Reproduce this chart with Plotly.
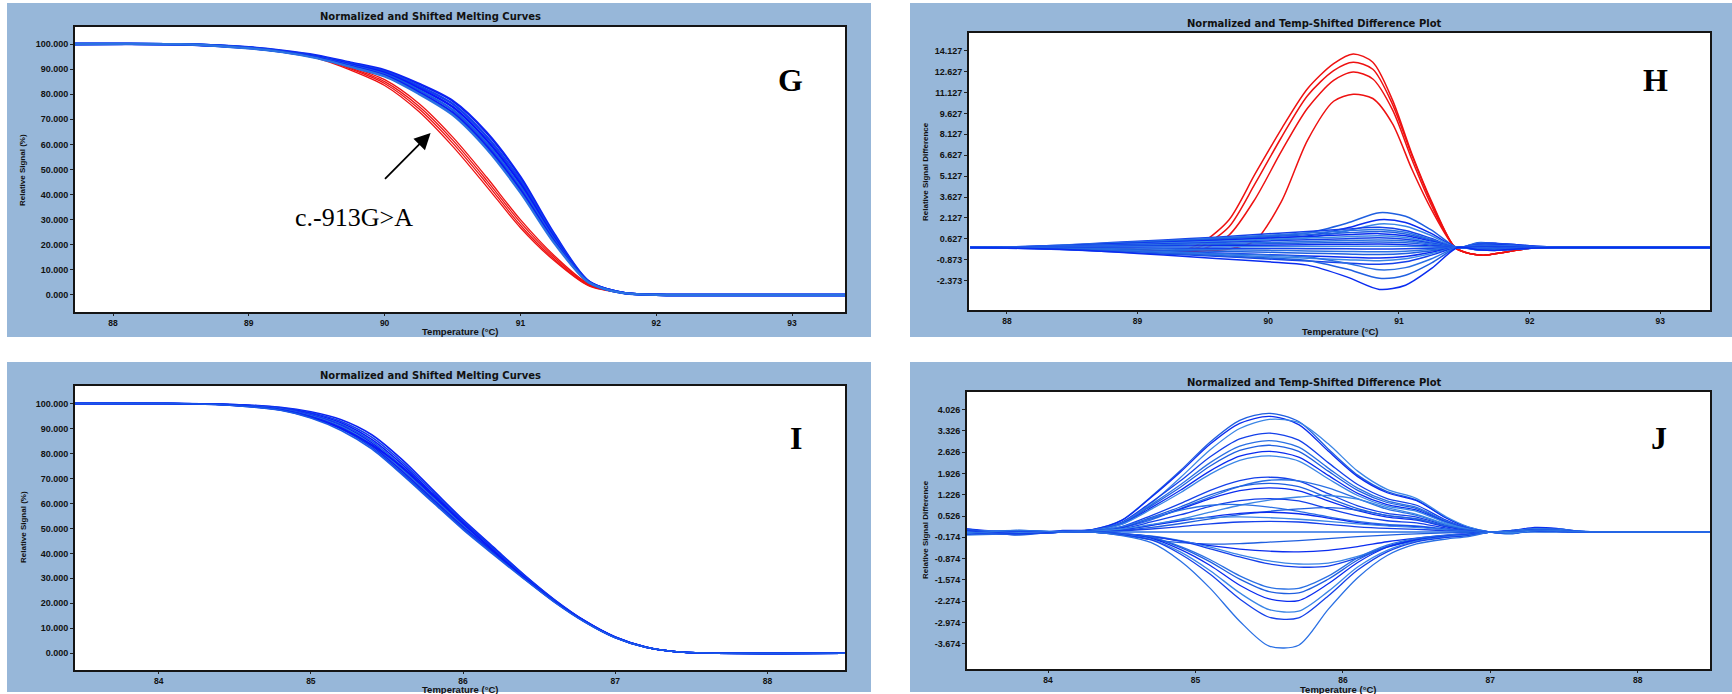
import plotly.graph_objects as go

W, H = 1732, 694

# ---------------- Panel G: normalized melting curves ----------------
g_temp = [87.72, 88.5, 89.0, 89.25, 89.5, 89.75, 90.0, 90.25, 90.5, 90.75, 91.0, 91.25, 91.5, 91.75, 92.0, 92.5, 93.39]
g_blue_signal = [
    [100, 99.9, 98.7, 97.4, 95.5, 92.6, 89.6, 84.2, 77.4, 64.8, 47.0, 24.2, 5.6, 0.9, 0.05, 0, 0],
    [100, 99.9, 98.6, 97.2, 95.2, 92.2, 89.0, 83.3, 76.2, 63.2, 45.6, 23.4, 5.5, 0.9, 0.05, 0, 0],
    [100, 99.9, 98.5, 97.1, 95.0, 91.8, 88.5, 82.5, 75.0, 61.8, 44.3, 22.6, 5.4, 0.9, 0.05, 0, 0],
    [100, 99.9, 98.5, 97.0, 94.8, 91.5, 88.0, 81.7, 73.8, 60.5, 43.0, 21.9, 5.3, 0.8, 0.05, 0, 0],
    [100, 99.9, 98.4, 96.9, 94.6, 91.2, 87.5, 80.9, 72.7, 59.3, 41.8, 21.2, 5.2, 0.8, 0.05, 0, 0],
    [100, 99.9, 98.3, 96.8, 94.4, 90.9, 87.1, 80.2, 71.8, 58.3, 40.8, 20.6, 5.1, 0.8, 0.05, 0, 0],
]
g_red_temp = [87.72, 88.5, 89.0, 89.25, 89.5, 89.75, 90.0, 90.25, 90.5, 90.75, 91.0, 91.25, 91.5, 91.75, 92.0, 92.2]
g_red_signal = [
    [100, 99.9, 98.6, 97.2, 95.0, 91.0, 85.8, 76.4, 63.0, 47.0, 30.0, 15.6, 4.5, 1.0, 0.1, 0],
    [100, 99.9, 98.5, 97.0, 94.8, 90.5, 85.0, 75.3, 61.8, 45.8, 28.9, 14.9, 4.2, 0.9, 0.1, 0],
    [100, 99.9, 98.5, 96.9, 94.6, 90.1, 84.3, 74.3, 60.6, 44.6, 27.8, 14.2, 3.9, 0.9, 0.1, 0],
    [100, 99.9, 98.4, 96.8, 94.4, 89.6, 83.5, 73.2, 59.3, 43.3, 26.8, 13.6, 3.7, 0.8, 0.1, 0],
]
g_xticks = [88, 89, 90, 91, 92, 93]
g_yticks = [0, 10, 20, 30, 40, 50, 60, 70, 80, 90, 100]

# ---------------- Panel H: difference plot ----------------
h_red_temp = [87.72, 88.5, 89.0, 89.3, 89.5, 89.7, 89.9, 90.1, 90.3, 90.5, 90.65, 90.8, 90.95, 91.1, 91.25, 91.43, 91.55, 91.65, 91.8, 92.0, 92.3]
h_red_diff = [
    [0.0, -0.05, -0.15, -0.3, 0.4, 2.0, 5.3, 8.5, 11.4, 13.2, 13.9, 13.3, 10.6, 6.7, 3.3, 0.0, -0.45, -0.55, -0.35, -0.05, 0.0],
    [0.0, -0.05, -0.15, -0.3, 0.15, 1.5, 4.6, 7.9, 10.9, 12.7, 13.3, 12.8, 10.3, 6.6, 3.2, 0.0, -0.45, -0.55, -0.35, -0.05, 0.0],
    [0.0, -0.05, -0.15, -0.3, -0.1, 0.9, 3.5, 6.9, 10.0, 12.0, 12.6, 12.1, 9.9, 6.3, 3.0, 0.0, -0.45, -0.55, -0.35, -0.05, 0.0],
    [0.0, -0.05, -0.15, -0.3, -0.25, -0.1, 0.5, 3.3, 7.7, 10.5, 11.0, 10.7, 8.9, 5.6, 2.7, 0.0, -0.45, -0.55, -0.35, -0.05, 0.0],
]
h_blue_temp = [87.72, 88.0, 88.4, 88.8, 89.2, 89.6, 90.0, 90.3, 90.6, 90.85, 91.05, 91.25, 91.45, 91.6, 91.75, 91.9, 92.05, 92.2, 92.4, 93.38]
h_blue_diff = [
    [0, 0.03, 0.1, 0.25, 0.45, 0.65, 0.85, 1.05, 1.75, 2.5, 2.25, 1.25, 0, 0.35, 0.3, 0.2, 0.1, 0.03, 0, 0],
    [0, 0.02, 0.08, 0.2, 0.36, 0.52, 0.68, 0.84, 1.4, 2.0, 1.8, 1.0, 0, 0.3, 0.3, 0.2, 0.1, 0.03, 0, 0],
    [0, 0.02, 0.07, 0.17, 0.31, 0.44, 0.58, 0.71, 1.19, 1.7, 1.53, 0.85, 0, 0.3, 0.25, 0.15, 0.05, 0.02, 0, 0],
    [0, 0.04, 0.17, 0.36, 0.55, 0.75, 0.99, 1.16, 1.33, 1.45, 1.23, 0.65, 0, 0.25, 0.25, 0.15, 0.05, 0.02, 0, 0],
    [0, 0.04, 0.16, 0.33, 0.49, 0.68, 0.88, 1.04, 1.2, 1.3, 1.1, 0.58, 0, 0.2, 0.2, 0.12, 0.05, 0, 0, 0],
    [0, 0.03, 0.14, 0.29, 0.44, 0.6, 0.78, 0.92, 1.06, 1.15, 0.98, 0.52, 0, 0.2, 0.2, 0.1, 0.03, 0, 0, 0],
    [0, 0.03, 0.12, 0.25, 0.38, 0.52, 0.68, 0.8, 0.92, 1.0, 0.85, 0.45, 0, 0.18, 0.2, 0.1, 0.03, 0, 0, 0],
    [0, 0.03, 0.1, 0.21, 0.32, 0.44, 0.58, 0.68, 0.78, 0.85, 0.72, 0.38, 0, 0.15, 0.15, 0.08, 0.02, 0, 0, 0],
    [0, 0.02, 0.08, 0.18, 0.27, 0.36, 0.48, 0.56, 0.64, 0.7, 0.6, 0.32, 0, 0.12, 0.12, 0.06, 0.02, 0, 0, 0],
    [0, 0.02, 0.07, 0.14, 0.21, 0.29, 0.37, 0.44, 0.51, 0.55, 0.47, 0.25, 0, 0.1, 0.1, 0.05, 0, 0, 0, 0],
    [0, 0.01, 0.05, 0.1, 0.15, 0.21, 0.27, 0.32, 0.37, 0.4, 0.34, 0.18, 0, 0.08, 0.1, 0.05, 0, 0, 0, 0],
    [0, 0.01, 0.03, 0.06, 0.1, 0.13, 0.17, 0.2, 0.23, 0.25, 0.21, 0.11, 0, 0.05, 0.05, 0.02, 0, 0, 0, 0],
    [0, 0, 0.01, 0.03, 0.04, 0.05, 0.07, 0.08, 0.09, 0.1, 0.09, 0.05, 0, 0, 0, 0, 0, 0, 0, 0],
    [0, 0, -0.01, -0.03, -0.04, -0.05, -0.07, -0.08, -0.09, -0.1, -0.09, -0.05, 0, 0.05, 0.05, 0.02, 0, 0, 0, 0],
    [0, -0.01, -0.04, -0.08, -0.11, -0.16, -0.2, -0.24, -0.28, -0.3, -0.26, -0.14, 0, -0.05, -0.08, -0.05, 0, 0, 0, 0],
    [0, -0.02, -0.06, -0.13, -0.19, -0.26, -0.34, -0.4, -0.46, -0.5, -0.43, -0.23, 0, -0.1, -0.1, -0.05, 0, 0, 0, 0],
    [0, -0.02, -0.09, -0.19, -0.29, -0.39, -0.51, -0.6, -0.69, -0.75, -0.64, -0.34, 0, -0.1, -0.15, -0.08, -0.03, 0, 0, 0],
    [0, -0.03, -0.11, -0.24, -0.36, -0.49, -0.65, -0.76, -0.87, -0.95, -0.81, -0.43, 0, -0.12, -0.15, -0.1, -0.03, 0, 0, 0],
    [0, -0.04, -0.14, -0.3, -0.46, -0.62, -0.82, -0.96, -1.1, -1.2, -1.02, -0.54, 0, -0.15, -0.18, -0.1, -0.03, 0, 0, 0],
    [0, -0.02, -0.06, -0.16, -0.29, -0.42, -0.54, -0.67, -1.12, -1.6, -1.44, -0.8, 0, -0.15, -0.18, -0.1, -0.03, 0, 0, 0],
    [0, -0.02, -0.09, -0.22, -0.4, -0.57, -0.75, -0.92, -1.54, -2.2, -1.98, -1.1, 0, -0.15, -0.2, -0.1, -0.03, 0, 0, 0],
    [0, -0.03, -0.12, -0.3, -0.54, -0.78, -1.02, -1.26, -2.1, -3.0, -2.7, -1.5, 0, -0.15, -0.2, -0.1, -0.03, 0, 0, 0],
]
h_xticks = [88, 89, 90, 91, 92, 93]
h_yticks = [-2.373, -0.873, 0.627, 2.127, 3.627, 5.127, 6.627, 8.127, 9.627, 11.127, 12.627, 14.127]

# ---------------- Panel I: normalized melting curves ----------------
i_temp = [83.45, 84.0, 84.4, 84.8, 85.0, 85.2, 85.4, 85.6, 85.8, 86.0, 86.2, 86.4, 86.6, 86.8, 87.0, 87.2, 87.4, 87.6, 88.51]
i_signal = [
    [100, 100, 99.8, 98.5, 96.7, 93.5, 87.5, 77.5, 65.5, 53.5, 42.5, 31.5, 21.5, 13.0, 6.5, 2.5, 0.6, 0.1, 0],
    [100, 100, 99.8, 98.3, 96.3, 92.8, 86.5, 76.5, 64.8, 53.0, 42.1, 31.3, 21.4, 12.9, 6.5, 2.5, 0.6, 0.1, 0],
    [100, 100, 99.7, 98.1, 95.9, 92.2, 85.6, 75.6, 64.0, 52.4, 41.7, 31.0, 21.2, 12.9, 6.4, 2.5, 0.6, 0.1, 0],
    [100, 100, 99.7, 98.0, 95.6, 91.7, 84.9, 74.8, 63.4, 52.0, 41.4, 30.8, 21.1, 12.8, 6.4, 2.5, 0.6, 0.1, 0],
    [100, 100, 99.7, 97.9, 95.3, 91.2, 84.2, 74.0, 62.8, 51.5, 41.1, 30.6, 21.0, 12.8, 6.4, 2.5, 0.6, 0.1, 0],
    [100, 100, 99.6, 97.8, 95.1, 90.8, 83.6, 73.4, 62.3, 51.1, 40.8, 30.4, 20.9, 12.7, 6.3, 2.4, 0.6, 0.1, 0],
    [100, 100, 99.6, 97.6, 94.8, 90.3, 83.0, 72.8, 61.7, 50.6, 40.4, 30.2, 20.8, 12.7, 6.3, 2.4, 0.6, 0.1, 0],
    [100, 100, 99.6, 97.5, 94.5, 89.8, 82.4, 72.1, 61.1, 50.0, 40.0, 30.0, 20.6, 12.6, 6.3, 2.4, 0.6, 0.1, 0],
    [100, 100, 99.5, 97.4, 94.4, 90.0, 83.5, 74.5, 63.5, 52.0, 41.0, 30.5, 20.8, 12.7, 6.3, 2.4, 0.6, 0.1, 0],
    [100, 100, 99.5, 97.3, 94.2, 89.2, 81.8, 71.5, 60.5, 49.5, 39.5, 29.8, 20.5, 12.5, 6.2, 2.4, 0.6, 0.1, 0],
]
i_xticks = [84, 85, 86, 87, 88]
i_yticks = [0, 10, 20, 30, 40, 50, 60, 70, 80, 90, 100]

# ---------------- Panel J: difference plot ----------------
j_temp = [83.45, 83.8, 84.1, 84.3, 84.5, 84.7, 84.9, 85.1, 85.3, 85.5, 85.7, 85.9, 86.1, 86.3, 86.5, 86.7, 86.85, 87.0, 87.15, 87.3, 87.45, 87.6, 88.0, 88.49]
j_diff = [
    [0.05, -0.05, 0.0, 0.08, 0.39, 1.17, 2.03, 2.96, 3.67, 3.9, 3.63, 2.73, 1.87, 1.33, 1.05, 0.47, 0.16, 0, -0.05, 0.08, 0.1, 0.03, 0, 0],
    [0.0, -0.08, 0.05, 0.08, 0.38, 1.14, 1.98, 2.89, 3.57, 3.8, 3.53, 2.66, 1.82, 1.29, 1.03, 0.46, 0.15, 0, 0.05, 0.15, 0.12, 0.03, 0, 0],
    [-0.1, -0.05, 0.0, 0.05, 0.3, 0.95, 1.8, 2.7, 3.4, 3.7, 3.6, 2.9, 2.0, 1.4, 1.1, 0.5, 0.17, 0, -0.05, 0.1, 0.1, 0.03, 0, 0],
    [0.08, -0.05, 0.02, 0.07, 0.33, 0.98, 1.69, 2.47, 3.06, 3.25, 3.02, 2.28, 1.56, 1.1, 0.88, 0.39, 0.13, 0, 0.05, 0.12, 0.1, 0.02, 0, 0],
    [-0.05, 0.05, 0.0, 0.06, 0.3, 0.9, 1.56, 2.28, 2.82, 3.0, 2.79, 2.1, 1.44, 1.02, 0.81, 0.36, 0.12, 0, -0.05, 0.06, 0.08, 0.02, 0, 0],
    [0.1, -0.1, 0.03, 0.06, 0.28, 0.86, 1.48, 2.17, 2.68, 2.85, 2.65, 2.0, 1.37, 0.97, 0.77, 0.34, 0.11, 0, 0.05, 0.1, 0.08, 0.02, 0, 0],
    [0.0, -0.05, 0.0, 0.05, 0.26, 0.8, 1.38, 2.01, 2.49, 2.65, 2.46, 1.86, 1.27, 0.9, 0.72, 0.32, 0.11, 0, -0.04, 0.06, 0.06, 0.02, 0, 0],
    [-0.08, 0.03, 0.02, 0.05, 0.25, 0.75, 1.3, 1.9, 2.35, 2.5, 2.33, 1.75, 1.2, 0.85, 0.68, 0.3, 0.1, 0, 0.04, 0.1, 0.08, 0.02, 0, 0],
    [0.05, -0.05, 0.0, 0.04, 0.18, 0.54, 0.94, 1.37, 1.69, 1.8, 1.67, 1.26, 0.86, 0.61, 0.49, 0.22, 0.07, 0, -0.03, 0.05, 0.05, 0.01, 0, 0],
    [0.0, 0.05, 0.0, 0.03, 0.14, 0.4, 0.78, 1.15, 1.5, 1.7, 1.68, 1.45, 1.1, 0.75, 0.55, 0.25, 0.08, 0, 0.04, 0.08, 0.06, 0.02, 0, 0],
    [-0.06, -0.05, 0.0, 0.03, 0.16, 0.48, 0.83, 1.22, 1.5, 1.6, 1.49, 1.12, 0.77, 0.54, 0.43, 0.19, 0.06, 0, -0.03, 0.05, 0.05, 0.01, 0, 0],
    [0.1, -0.02, 0.02, 0.03, 0.15, 0.44, 0.75, 1.1, 1.36, 1.45, 1.35, 1.02, 0.7, 0.49, 0.39, 0.17, 0.06, 0, 0.03, 0.07, 0.05, 0.01, 0, 0],
    [0.0, -0.05, 0.0, 0.02, 0.08, 0.22, 0.42, 0.65, 0.88, 1.05, 1.15, 1.2, 1.08, 0.8, 0.58, 0.26, 0.09, 0, -0.03, 0.05, 0.05, 0.01, 0, 0],
    [-0.05, 0.03, 0.0, 0.02, 0.11, 0.33, 0.57, 0.84, 1.03, 1.1, 1.02, 0.77, 0.53, 0.37, 0.3, 0.13, 0.04, 0, 0.02, 0.05, 0.04, 0.01, 0, 0],
    [0.05, -0.05, 0.0, 0.03, 0.18, 0.45, 0.72, 0.88, 0.9, 0.82, 0.68, 0.5, 0.35, 0.25, 0.2, 0.1, 0.03, 0, -0.02, 0.04, 0.04, 0.01, 0, 0],
    [0.0, 0.02, 0.0, 0.01, 0.05, 0.15, 0.28, 0.43, 0.57, 0.68, 0.76, 0.8, 0.72, 0.55, 0.42, 0.2, 0.07, 0, 0.02, 0.05, 0.04, 0.01, 0, 0],
    [-0.05, -0.03, 0.0, 0.02, 0.08, 0.22, 0.37, 0.5, 0.61, 0.65, 0.6, 0.46, 0.31, 0.22, 0.18, 0.08, 0.03, 0, -0.02, 0.03, 0.03, 0.01, 0, 0],
    [0.03, 0.0, 0.0, 0.02, 0.1, 0.25, 0.4, 0.48, 0.5, 0.47, 0.42, 0.35, 0.27, 0.2, 0.15, 0.07, 0.02, 0, 0.02, 0.03, 0.02, 0, 0, 0],
    [0.0, -0.04, 0.0, 0.01, 0.04, 0.1, 0.18, 0.27, 0.33, 0.35, 0.33, 0.25, 0.17, 0.12, 0.09, 0.04, 0.01, 0, -0.02, 0.02, 0.02, 0, 0, 0],
    [0, 0, 0, 0, 0, 0, 0, 0, 0, 0, 0, 0, 0, 0, 0, 0, 0, 0, 0, 0, 0, 0, 0, 0],
    [0.0, 0.0, 0.0, 0.0, -0.1, -0.25, -0.35, -0.4, -0.38, -0.33, -0.28, -0.22, -0.15, -0.1, -0.06, -0.03, -0.01, 0, 0.02, 0.02, 0.01, 0, 0, 0],
    [0.0, -0.03, 0.0, 0.0, -0.05, -0.15, -0.3, -0.45, -0.56, -0.63, -0.65, -0.6, -0.48, -0.32, -0.2, -0.1, -0.05, 0, 0.02, 0.03, 0.02, 0, 0, 0],
    [0.05, 0.0, 0.0, 0.0, -0.05, -0.13, -0.28, -0.5, -0.75, -0.95, -1.05, -1.02, -0.8, -0.48, -0.25, -0.12, -0.07, 0, -0.02, 0.04, 0.03, 0.01, 0, 0],
    [-0.05, -0.05, 0.0, 0.0, -0.05, -0.14, -0.3, -0.55, -0.82, -1.05, -1.15, -1.12, -0.85, -0.5, -0.28, -0.14, -0.08, 0, 0.02, 0.04, 0.03, 0.01, 0, 0],
    [0.0, 0.03, 0.0, 0.0, -0.06, -0.17, -0.48, -0.91, -1.44, -1.82, -1.85, -1.45, -0.85, -0.43, -0.21, -0.11, -0.07, 0, 0.02, 0.04, 0.03, 0.01, 0, 0],
    [0.08, -0.05, 0.0, 0.0, -0.06, -0.18, -0.51, -0.98, -1.55, -1.96, -2.0, -1.55, -0.92, -0.47, -0.23, -0.12, -0.08, 0, -0.03, 0.04, 0.03, 0.01, 0, 0],
    [-0.05, 0.03, 0.0, 0.0, -0.07, -0.21, -0.58, -1.1, -1.75, -2.2, -2.25, -1.7, -1.0, -0.5, -0.26, -0.14, -0.09, 0, 0.03, 0.05, 0.04, 0.01, 0, 0],
    [0.0, -0.03, 0.0, 0.0, -0.08, -0.24, -0.66, -1.27, -2.0, -2.55, -2.6, -1.95, -1.15, -0.6, -0.3, -0.16, -0.1, 0, -0.03, 0.05, 0.04, 0.01, 0, 0],
    [0.05, -0.05, 0.0, 0.0, -0.09, -0.26, -0.73, -1.39, -2.2, -2.8, -2.82, -2.1, -1.25, -0.65, -0.32, -0.18, -0.12, 0, 0.03, 0.06, 0.05, 0.01, 0, 0],
    [-0.05, 0.05, 0.0, 0.0, -0.12, -0.35, -0.96, -1.85, -2.93, -3.75, -3.72, -2.54, -1.5, -0.77, -0.39, -0.23, -0.15, 0, 0.03, 0.06, 0.05, 0.01, 0, 0],
]
j_xticks = [84, 85, 86, 87, 88]
j_yticks = [-3.674, -2.974, -2.274, -1.574, -0.874, -0.174, 0.526, 1.226, 1.926, 2.626, 3.326, 4.026]

# ---------------- styling ----------------
PANEL_BG = "#97b7d9"
FRAME = "#151515"
BLUES_DENSE = ["#0c22f2", "#1040ec", "#0818f8", "#1a5ae6", "#0a1cf5", "#2a72e2"]
BLUES_THIN = ["#1f5fe0", "#0a2cf0", "#3b86e6", "#1440ea", "#2a70e4"]
RED = "#ee1111"

# pixel boxes of the four plot areas (left, top, right, bottom)
boxes = {
    "G": (75, 27, 845, 312),
    "H": (969, 33, 1710, 310),
    "I": (75, 386, 845, 670),
    "J": (967, 392, 1710, 669),
}
panels = {
    "G": (7, 3, 871, 337),
    "H": (910, 3, 1732, 337),
    "I": (7, 362, 871, 692),
    "J": (910, 362, 1732, 692),
}


def px(x):
    return x / W


def py(y):
    return 1 - y / H


fig = go.Figure()


def add_curves(temp, rows, colors, width, xa, ya):
    for k, row in enumerate(rows):
        fig.add_trace(go.Scatter(
            x=temp, y=row, mode="lines",
            line=dict(color=colors[k % len(colors)], width=width, shape="spline", smoothing=0.8),
            xaxis=xa, yaxis=ya, hoverinfo="skip", showlegend=False,
        ))


add_curves(g_red_temp, g_red_signal, [RED], 1.3, "x", "y")
add_curves(g_temp, g_blue_signal, BLUES_DENSE, 2.4, "x", "y")
add_curves(h_red_temp, h_red_diff, [RED], 1.5, "x2", "y2")
add_curves(h_blue_temp, h_blue_diff, BLUES_THIN, 1.5, "x2", "y2")
add_curves(i_temp, i_signal, BLUES_DENSE, 1.6, "x3", "y3")
add_curves(j_temp, j_diff, BLUES_THIN, 1.3, "x4", "y4")

ytick_font = dict(family="Arial", size=9, color="#111", weight="bold")
xtick_font = dict(family="Arial", size=8.5, color="#111", weight="bold")


def axis_common():
    return dict(showgrid=False, zeroline=False, showline=True, mirror=True,
                linecolor=FRAME, linewidth=2, ticks="outside", ticklen=3,
                tickwidth=1, tickcolor="#222", tickmode="array")


def fmt(vals):
    return [f"{v:.3f}" for v in vals]


layout_axes = {}
specs = [
    ("G", "xaxis", "yaxis", "x", "y", [87.72, 93.39], [-6.8, 106.8], g_xticks, g_yticks),
    ("H", "xaxis2", "yaxis2", "x2", "y2", [87.71, 93.38], [-4.48, 15.40], h_xticks, h_yticks),
    ("I", "xaxis3", "yaxis3", "x3", "y3", [83.45, 88.51], [-6.7, 107.0], i_xticks, i_yticks),
    ("J", "xaxis4", "yaxis4", "x4", "y4", [83.45, 88.49], [-4.50, 4.60], j_xticks, j_yticks),
]
for key, xname, yname, xid, yid, xr, yr, xt, yt in specs:
    l, t, r, b = boxes[key]
    xa = axis_common()
    xa.update(domain=[px(l), px(r)], range=xr, anchor=yid, tickvals=xt,
              ticktext=[str(v) for v in xt], tickfont=xtick_font, ticklen=2)
    ya = axis_common()
    ya.update(domain=[py(b), py(t)], range=yr, anchor=xid, tickvals=yt,
              ticktext=fmt(yt), tickfont=ytick_font)
    layout_axes[xname] = xa
    layout_axes[yname] = ya

shapes = []
for key in ["G", "H", "I", "J"]:
    l, t, r, b = panels[key]
    shapes.append(dict(type="rect", xref="paper", yref="paper", x0=px(l), x1=px(r), y0=py(b), y1=py(t),
                       fillcolor=PANEL_BG, line=dict(width=0), layer="below"))
    l, t, r, b = boxes[key]
    shapes.append(dict(type="rect", xref="paper", yref="paper", x0=px(l), x1=px(r), y0=py(b), y1=py(t),
                       fillcolor="white", line=dict(width=0), layer="below"))


def note(text, x, y, font, angle=0):
    return dict(text=text, x=px(x), y=py(y), xref="paper", yref="paper",
                xanchor="center", yanchor="middle", showarrow=False, font=font, textangle=angle)


title_font = dict(family="DejaVu Sans", size=10, color="#111", weight="bold")
xtitle_font = dict(family="Arial", size=9.5, color="#111", weight="bold")
ytitle_font = dict(family="Arial", size=8, color="#111", weight="bold")
letter_font = dict(family="Liberation Serif", size=32, color="#000", weight="bold")

annotations = [
    note("Normalized and Shifted Melting Curves", 430, 17, title_font),
    note("Normalized and Temp-Shifted Difference Plot", 1314, 23, title_font),
    note("Normalized and Shifted Melting Curves", 430, 375, title_font),
    note("Normalized and Temp-Shifted Difference Plot", 1314, 382, title_font),
    note("Temperature (°C)", 460, 331, xtitle_font),
    note("Temperature (°C)", 1340, 331, xtitle_font),
    note("Temperature (°C)", 460, 689, xtitle_font),
    note("Temperature (°C)", 1338, 689, xtitle_font),
    note("Relative Signal (%)", 23, 170, ytitle_font, -90),
    note("Relative Signal Difference", 925, 172, ytitle_font, -90),
    note("Relative Signal (%)", 23, 527, ytitle_font, -90),
    note("Relative Signal Difference", 925, 530, ytitle_font, -90),
    note("G", 790, 80, letter_font),
    note("H", 1655, 80, letter_font),
    note("I", 796, 438, letter_font),
    note("J", 1659, 438, letter_font),
    note("c.-913G>A", 354, 218, dict(family="Liberation Serif", size=26, color="#000")),
    dict(text=" ", x=px(430.6), y=py(133), xref="paper", yref="paper", showarrow=True,
         ax=-48.6, ay=49, arrowhead=2, arrowsize=1.8, arrowwidth=1.8, arrowcolor="#000",
         standoff=0, startstandoff=0),
]

fig.update_layout(
    width=W, height=H,
    margin=dict(l=0, r=0, t=0, b=0),
    paper_bgcolor="white", plot_bgcolor="rgba(0,0,0,0)",
    showlegend=False,
    shapes=shapes, annotations=annotations,
    **layout_axes,
)

fig.write_html("out.html")
